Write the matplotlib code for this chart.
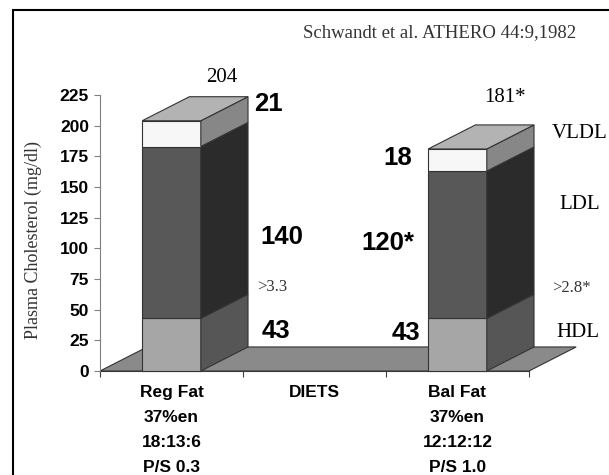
import matplotlib.pyplot as plt
from matplotlib.patches import Polygon, Rectangle

# cholesterol fractions (mg/dl) per diet
diets = ["Reg Fat\n37%en\n18:13:6\nP/S 0.3", "DIETS", "Bal Fat\n37%en\n12:12:12\nP/S 1.0"]
bar_pos = [0, 2]
hdl = [43, 43]
ldl = [140, 120]
vldl = [21, 18]
totals = ["204", "181*"]
ldl_text = ["140", "120*"]
ratio_text = [">3.3", ">2.8*"]

SANS = "Liberation Sans"
SERIF = "Liberation Serif"

W = 0.41     # bar front width
DX = 0.33    # depth shift (x units)
DY = 19.6    # depth shift (y units)
EDGE = "#333333"

fig = plt.figure(figsize=(6.09, 4.75), dpi=100)
ax = fig.add_axes([100 / 609, 104 / 475, 429 / 609, 276 / 475])
ax.set_xlim(-0.5, 2.5)
ax.set_ylim(0, 225)


def poly(pts, color, z=3):
    ax.add_patch(Polygon(pts, closed=True, facecolor=color, edgecolor=EDGE,
                         linewidth=0.8, zorder=z, clip_on=False))


# floor
poly([(-0.5, 0), (2.5, 0), (2.5 + DX, DY), (-0.5 + DX, DY)], "#8a8a8a", z=1)

# stacked 3d bars
layers = [(hdl, "#a6a6a6", "#565656"),
          (ldl, "#585858", "#2b2b2b"),
          (vldl, "#f7f7f7", "#878787")]
for i, c in enumerate(bar_pos):
    x0, x1 = c - W / 2, c + W / 2
    b = 0
    for vals, front, side in layers:
        t = b + vals[i]
        poly([(x0, b), (x1, b), (x1, t), (x0, t)], front)
        poly([(x1, b), (x1 + DX, b + DY), (x1 + DX, t + DY), (x1, t)], side)
        b = t
    poly([(x0, b), (x1, b), (x1 + DX, b + DY), (x0 + DX, b + DY)], "#b3b3b3")

# axes styling
for s in ["top", "right"]:
    ax.spines[s].set_visible(False)
ax.spines["left"].set_color("#808080")
ax.spines["bottom"].set_color("#404040")
ax.spines["bottom"].set_zorder(0)
ax.set_yticks(range(0, 226, 25))
ax.tick_params(axis="y", length=4, width=0.8, color="#808080", pad=4)
for lab in ax.get_yticklabels():
    lab.set_fontfamily(SANS)
    lab.set_fontweight("bold")
    lab.set_fontsize(12.5)
ax.set_xticks([0, 1, 2])
ax.set_xticklabels(diets, fontfamily=SANS, fontweight="bold", fontsize=12.5,
                   linespacing=1.85, va="top")
ax.set_xticks([-0.5, 0.5, 1.5, 2.5], minor=True)
ax.tick_params(axis="x", which="major", length=0, pad=10)
ax.tick_params(axis="x", which="minor", length=4, width=0.8, color="#404040")

# value labels
bold = dict(fontfamily=SANS, fontweight="bold", fontsize=18.5, va="center", clip_on=False)
serif = dict(fontfamily=SERIF, fontsize=15, va="center", ha="center", clip_on=False)
small = dict(fontfamily=SERIF, fontsize=12, va="center", ha="center", clip_on=False,
             color="#333333")

ax.text(0.353, 239, totals[0], **serif)
ax.text(2.332, 223, totals[1], **serif)
ax.text(0.577, 218, str(vldl[0]), ha="left", **bold)
ax.text(1.682, 174, str(vldl[1]), ha="right", **bold)
ax.text(0.773, 109, ldl_text[0], ha="center", **bold)
ax.text(1.696, 104, ldl_text[1], ha="right", **bold)
ax.text(0.731, 33, str(hdl[0]), ha="center", **bold)
ax.text(1.738, 31, str(hdl[1]), ha="right", **bold)
ax.text(0.703, 68.5, ratio_text[0], **small)
ax.text(2.794, 67.7, ratio_text[1], **small)
ax.text(2.857, 194, "VLDL", **serif)
ax.text(2.857, 136, "LDL", **serif)
ax.text(2.843, 31, "HDL", **serif)

fig.text(33 / 609, 1 - 240 / 475, "Plasma Cholesterol (mg/dl)", rotation=90,
         fontfamily=SERIF, fontsize=13, ha="center", va="center", color="#333333")
fig.text(440 / 609, 1 - 33 / 475, "Schwandt et al. ATHERO 44:9,1982",
         fontfamily=SERIF, fontsize=13.5, ha="center", va="center", color="#333333")

# outer frame (open on right and bottom)
fig.patches.append(Rectangle((13 / 609, -0.1), 1.2, 1.1 - 10 / 475,
                             transform=fig.transFigure, fill=False,
                             edgecolor="black", linewidth=1.5))

fig.savefig("out.png", dpi=100)
